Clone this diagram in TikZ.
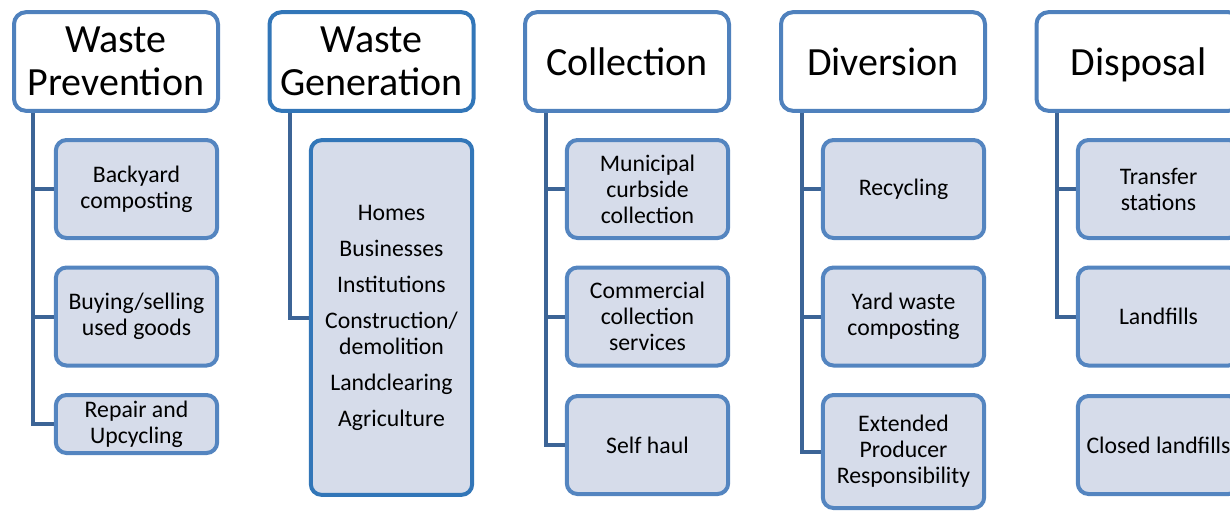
\documentclass[tikz,border=0pt]{standalone}
\usepackage{fontspec}
\setmainfont{Carlito}
\definecolor{hdrblue}{RGB}{79,129,189}
\definecolor{genblue}{RGB}{50,118,184}
\definecolor{lnkblue}{RGB}{60,100,150}
\definecolor{itemfill}{RGB}{214,220,234}
\definecolor{itemline}{RGB}{84,133,192}

\begin{document}
\begin{tikzpicture}[x=0.75pt,y=-0.75pt,
    head/.style={draw=hdrblue,line width=3pt,rounded corners=9pt,fill=white,
      minimum width=153pt,minimum height=74pt,align=center,
      font=\fontsize{30}{32}\selectfont},
    item/.style={draw=itemline,line width=3pt,rounded corners=8pt,fill=itemfill,
      minimum width=121pt,minimum height=73.5pt,align=center,inner sep=1pt,
      font=\fontsize{17.8}{19.5}\selectfont},
    link/.style={lnkblue,line width=3pt}]
  \clip (0,0) rectangle (1230,512);

  % headers:
  \node[head] (prev) at (116,61.5) {Waste\\Prevention};
  \node[head,draw=genblue] (gen) at (371.5,61.5) {Waste\\Generation};
  \node[head] (coll) at (627,61.5) {Collection};
  \node[head] (div) at (883,61.5) {Diversion};
  \node[head,text depth=0pt] (disp) at (1138.5,61.5) {Disposal};

  % waste prevention:
  \node[item] (yard) at (136.5,189) {Backyard\\composting};
  \node[item] (used) at (136.5,316.5) {Buying/selling\\used goods};
  \node[item,minimum height=43.5pt] (rep) at (136.5,424) {Repair and\\Upcycling};

  % waste generation:
  \node[item,draw=genblue,minimum height=266pt] (src) at (391.5,317.5)
    {Homes\\[7.5pt]Businesses\\[7.5pt]Institutions\\[7.5pt]Construction/\\demolition\\[7.5pt]Landclearing\\[7.5pt]Agriculture};

  % collection:
  \node[item] (curb) at (647.5,189) {Municipal\\curbside\\collection};
  \node[item] (comm) at (647.5,316.5) {Commercial\\collection\\services};
  \node[item] (haul) at (647.5,445) {Self haul};

  % diversion:
  \node[item] (recy) at (903.5,189) {Recycling};
  \node[item] (ywc) at (903.5,316.5) {Yard waste\\composting};
  \node[item,minimum height=84.75pt] (epr) at (903.5,451.5) {Extended\\Producer\\Responsibility};

  % disposal:
  \node[item] (trans) at (1158.5,189) {Transfer\\stations};
  \node[item] (land) at (1158.5,316.5) {Landfills};
  \node[item] (closed) at (1158.5,445) {Closed landfills};

  % trunks:
  \coordinate (t1) at (prev.south -| 33,0);
  \coordinate (t2) at (gen.south -| 290,0);
  \coordinate (t3) at (coll.south -| 546,0);
  \coordinate (t4) at (div.south -| 802,0);
  \coordinate (t5) at (disp.south -| 1057,0);

  \begin{scope}[link]
    \draw (t1) |- (yard.west) (t1) |- (used.west) (t1) |- (rep.west);
    \draw (t2) |- (src.west);
    \draw (t3) |- (curb.west) (t3) |- (comm.west) (t3) |- (haul.west);
    \draw (t4) |- (recy.west) (t4) |- (ywc.west) (t4) |- (epr.west);
    \draw (t5) |- (trans.west) (t5) |- (land.west);
  \end{scope}
\end{tikzpicture}
\end{document}
